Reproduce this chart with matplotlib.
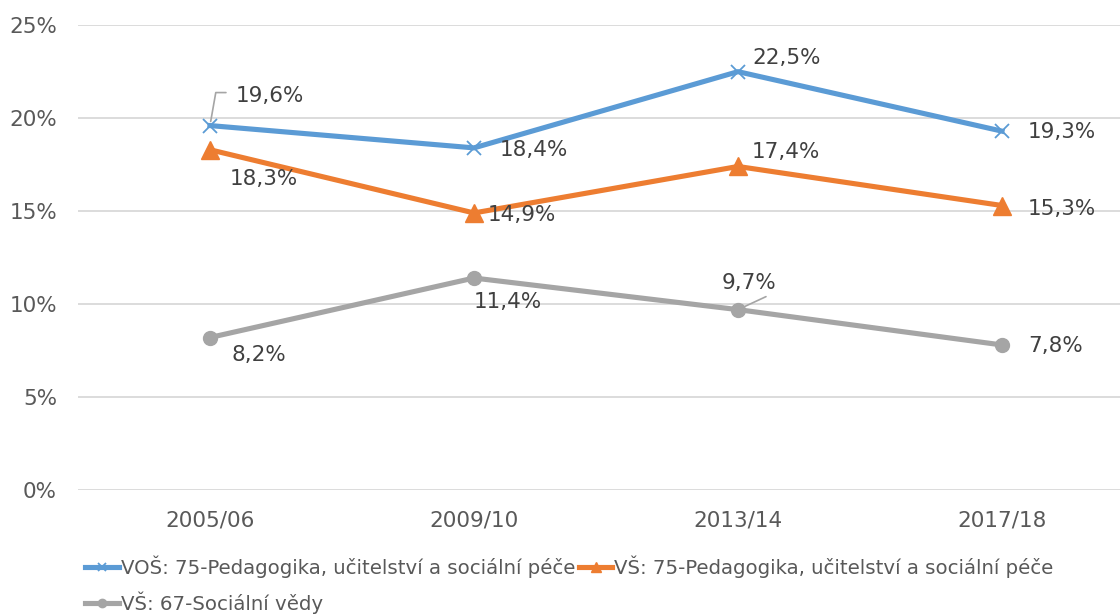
import numpy as np
from matplotlib import pyplot as plt

years = ['2005/06', '2009/10', '2013/14', '2017/18']
vos_75 = [19.6, 18.4, 22.5, 19.3]
vs_75 = [18.3, 14.9, 17.4, 15.3]
vs_67 = [8.2, 11.4, 9.7, 7.8]
names = ['VOŠ: 75-Pedagogika, učitelství a sociální péče',
         'VŠ: 75-Pedagogika, učitelství a sociální péče',
         'VŠ: 67-Sociální vědy']

plt.rcParams['font.family'] = ['DejaVu Sans']

fig = plt.figure(figsize=(11.2, 6.14), dpi=100)
ax = fig.add_axes([0.0696, 0.202, 0.9429, 0.757])

x = np.arange(len(years))
vos_graph, = ax.plot(x, vos_75, '-', color='#5b9bd5', lw=3.7, marker='x', ms=10, mew=1.3, zorder=3)
vs75_graph, = ax.plot(x, vs_75, '-', color='#ed7d31', lw=3.7, marker='^', ms=13, zorder=3)
vs67_graph, = ax.plot(x, vs_67, '-', color='#a5a5a5', lw=3.7, marker='o', ms=10, zorder=3)

def fmt(v):
    return ('%.1f%%' % v).replace('.', ',')

# label offsets in pixels (dx, dy)
offs_vos = [(26, 30), (26, -2), (14, 14), (26, -1)]
offs_vs75 = [(20, -29), (14, -2), (14, 14), (26, -3)]
offs_vs67 = [(22, -17), (0, -24), (-16, 27), (26, -1)]

for vals, offs in [(vos_75, offs_vos), (vs_75, offs_vs75), (vs_67, offs_vs67)]:
    for i, v in enumerate(vals):
        ax.annotate(fmt(v), (x[i], v), xytext=offs[i], textcoords='offset pixels',
                    ha='left', va='center', fontsize=15.5, color='#404040')

# leader lines
ax.annotate('', (x[0], vos_75[0]), xytext=(16, 33), textcoords='offset pixels',
            arrowprops=dict(arrowstyle='-', color='#a5a5a5', lw=1.2, shrinkA=0, shrinkB=3,
                            connectionstyle='angle,angleA=0,angleB=80,rad=0'))
ax.annotate('', (x[2], vs_67[2]), xytext=(28, 13), textcoords='offset pixels',
            arrowprops=dict(arrowstyle='-', color='#a5a5a5', lw=1.2, shrinkA=0, shrinkB=4))

ax.set_xlim(-0.5, 3.5)
ax.set_ylim(0, 25)
ax.set_xticks(x)
ax.set_xticklabels(years)
ax.set_yticks([0, 5, 10, 15, 20, 25])
ax.set_yticklabels(['0%', '5%', '10%', '15%', '20%', '25%'])
ax.tick_params(length=0, labelsize=15.5, labelcolor='#595959')
ax.tick_params(axis='x', pad=15)
ax.tick_params(axis='y', pad=15)
ax.grid(axis='y', color='#d9d9d9', lw=1.3)
ax.set_axisbelow(True)
for s in ax.spines.values():
    s.set_visible(False)

fig.legend(handles=[vos_graph, vs67_graph, vs75_graph],
           labels=[names[0], names[2], names[1]],
           ncol=2, loc='upper left', bbox_to_anchor=(0.076, 0.096), frameon=False,
           fontsize=14.2, labelcolor='#595959', handlelength=1.7, handletextpad=0.1,
           columnspacing=0.2, labelspacing=0.7, borderaxespad=0, borderpad=0,
           markerscale=0.6)

fig.savefig('out.png', dpi=100)
